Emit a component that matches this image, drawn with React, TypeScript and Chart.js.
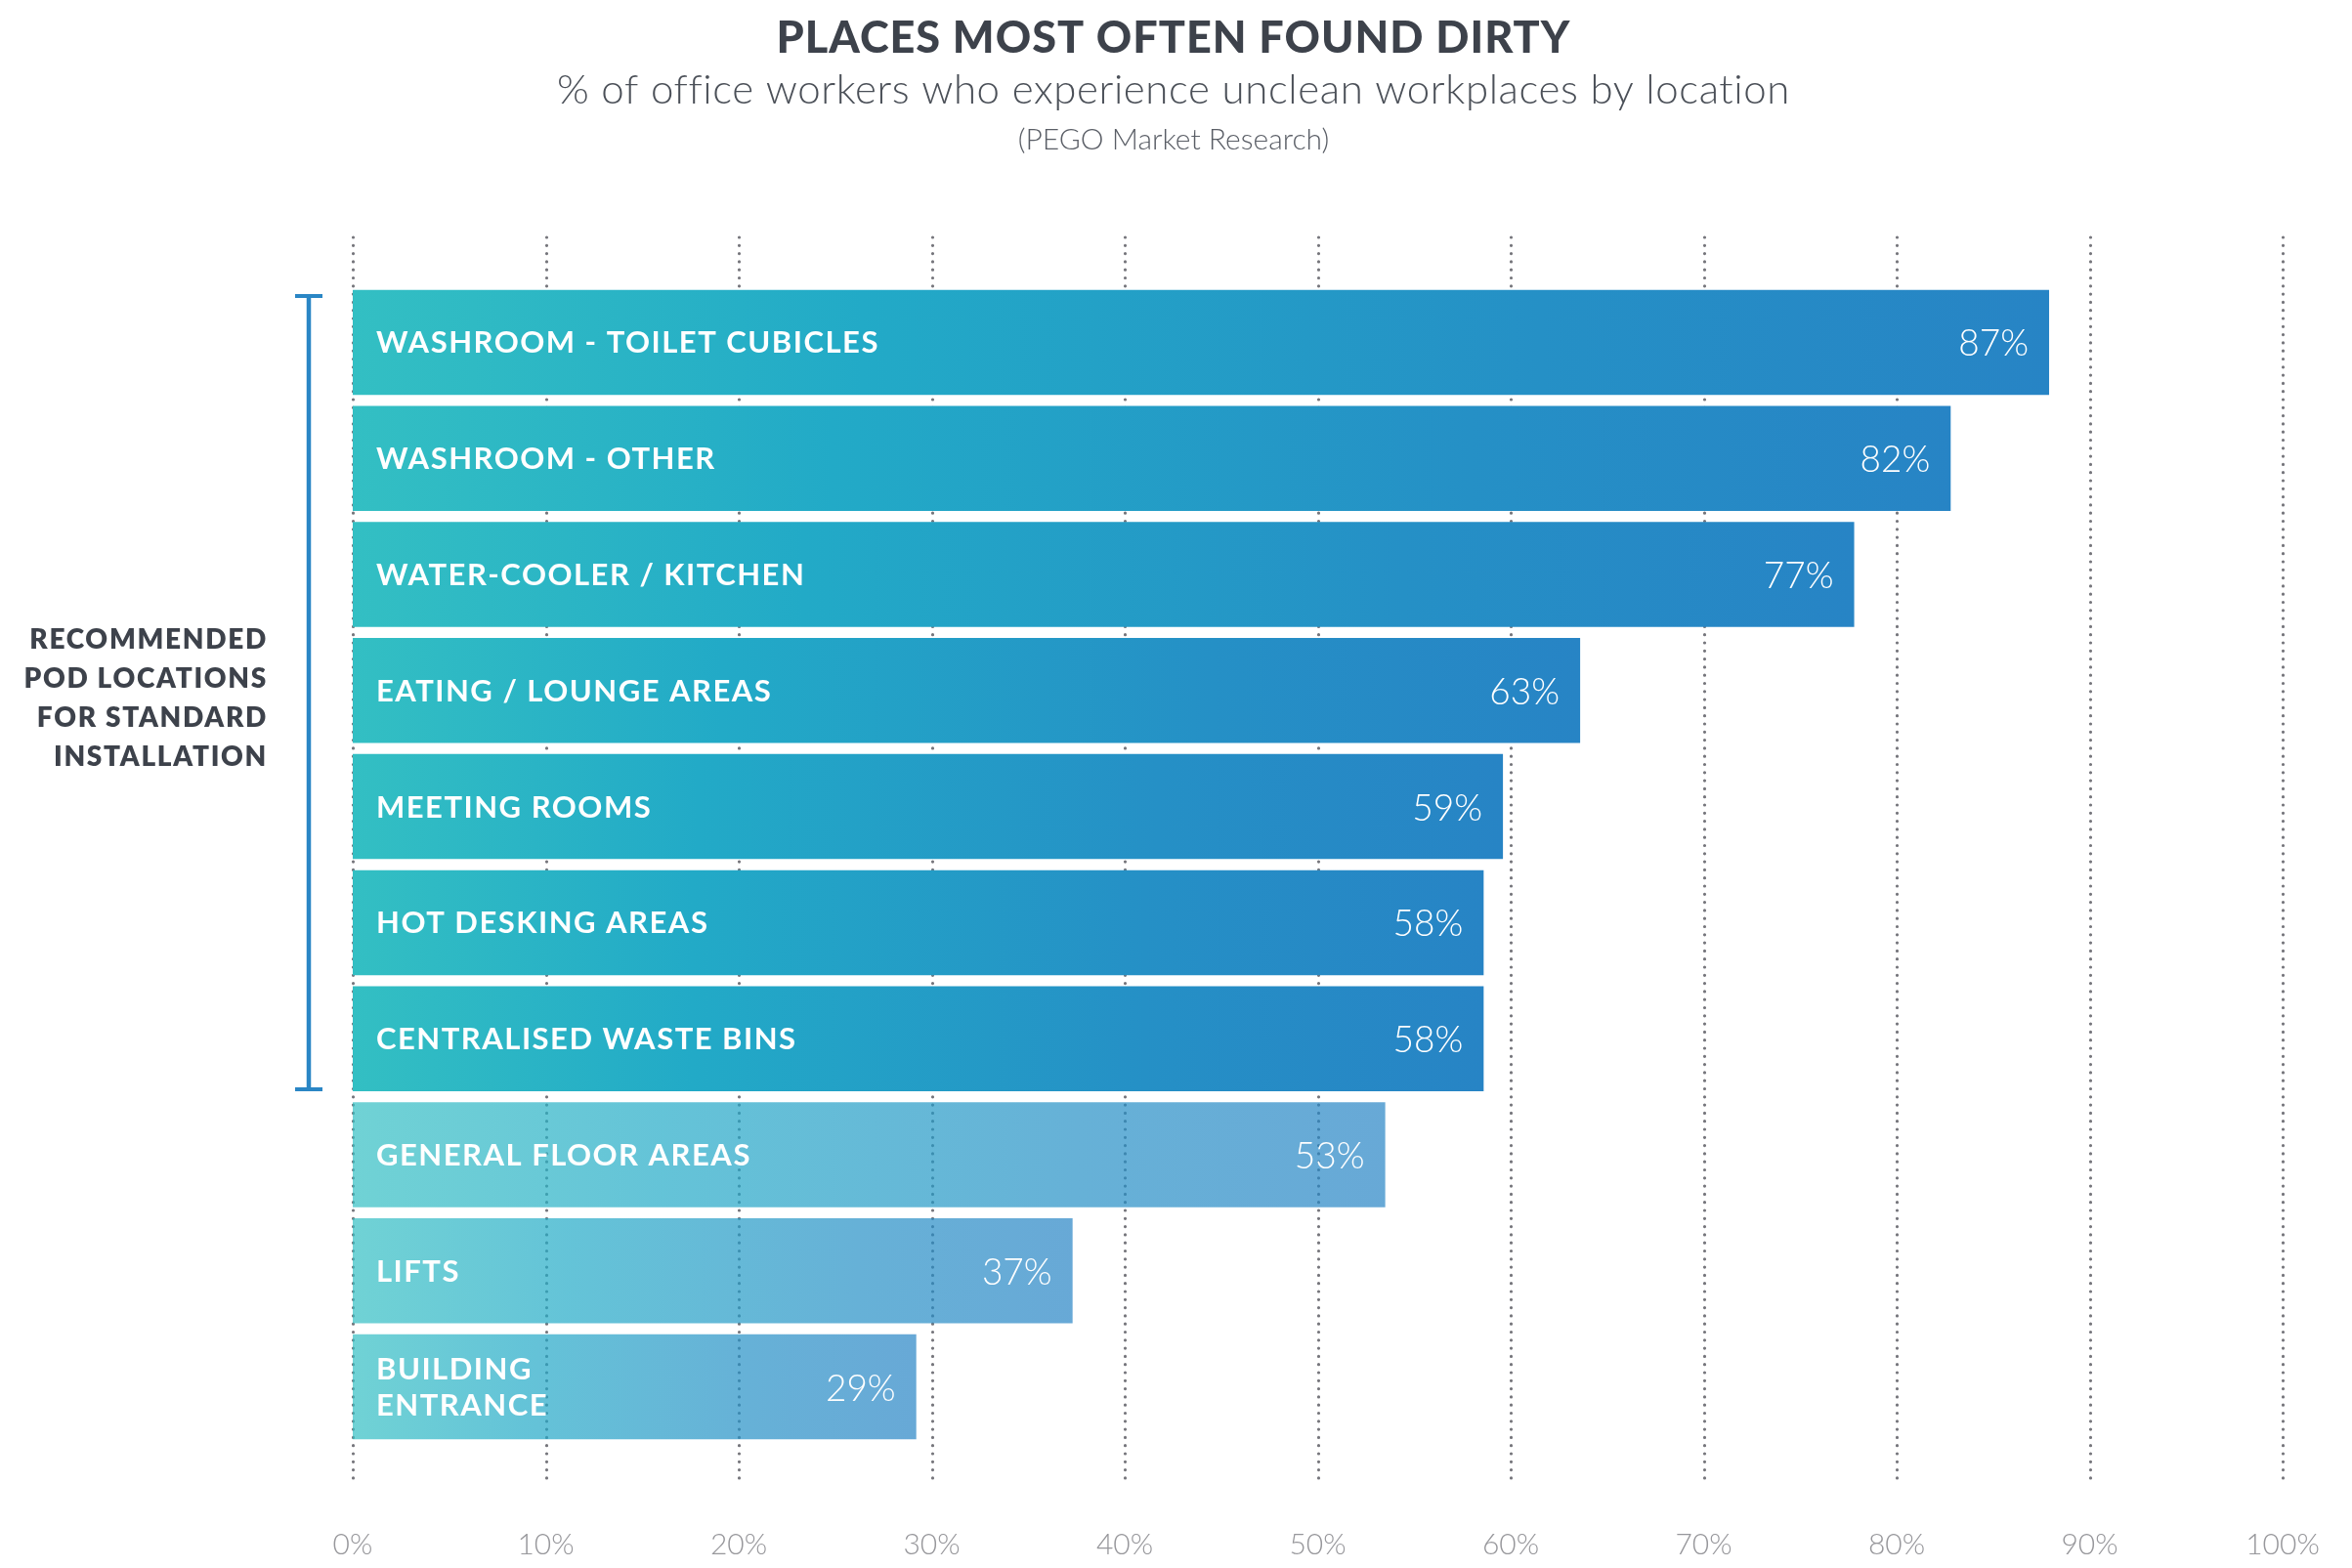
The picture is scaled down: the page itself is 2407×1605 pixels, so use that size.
import { useEffect, useRef } from "react";
import { Chart, registerables } from "chart.js";

Chart.register(...registerables);

const titleText = "PLACES MOST OFTEN FOUND DIRTY";
const subtitleText = "% of office workers who experience unclean workplaces by location";
const sourceText = "(PEGO Market Research)";
const sideLabelLines = ["RECOMMENDED", "POD LOCATIONS", "FOR STANDARD", "INSTALLATION"];

const categories: string[][] = [
  ["WASHROOM - TOILET CUBICLES"],
  ["WASHROOM - OTHER"],
  ["WATER-COOLER / KITCHEN"],
  ["EATING / LOUNGE AREAS"],
  ["MEETING ROOMS"],
  ["HOT DESKING AREAS"],
  ["CENTRALISED WASTE BINS"],
  ["GENERAL FLOOR AREAS"],
  ["LIFTS"],
  ["BUILDING", "ENTRANCE"],
];
// bar lengths as drawn in the picture
const values = [87.9, 82.8, 77.8, 63.6, 59.6, 58.6, 58.6, 53.5, 37.3, 29.2];
const valueLabels = ["87%", "82%", "77%", "63%", "59%", "58%", "58%", "53%", "37%", "29%"];
const recommended = [true, true, true, true, true, true, true, false, false, false];
const xTicks = [0, 10, 20, 30, 40, 50, 60, 70, 80, 90, 100];

const FONT = "Lato, 'Open Sans', sans-serif";

function barFill(ctx: any) {
  const chart = ctx.chart;
  const i = ctx.dataIndex;
  const a = recommended[i] ? 1 : 0.7;
  const xs = chart.scales && chart.scales.x;
  if (!chart.chartArea || !xs || i === undefined) return `rgba(34,168,200,${a})`;
  const x0 = xs.getPixelForValue(0);
  const x1 = xs.getPixelForValue(values[i]);
  const g = chart.ctx.createLinearGradient(x0, 0, x1, 0);
  g.addColorStop(0, `rgba(51,191,195,${a})`);
  g.addColorStop(0.3, `rgba(34,170,199,${a})`);
  g.addColorStop(0.7, `rgba(37,144,198,${a})`);
  g.addColorStop(1, `rgba(39,132,197,${a})`);
  return g;
}

const decorPlugin = {
  id: "decor",
  beforeDatasetsDraw(chart: any) {
    const ctx = chart.ctx;
    const xs = chart.scales.x;
    ctx.save();
    ctx.strokeStyle = "#76767c";
    ctx.lineWidth = 3.2;
    ctx.lineCap = "round";
    ctx.setLineDash([0, 8.3]);
    for (const t of xTicks) {
      const x = Math.round(xs.getPixelForValue(t)) + 0.5;
      ctx.beginPath();
      ctx.moveTo(x, 243);
      ctx.lineTo(x, 1521);
      ctx.stroke();
    }
    ctx.restore();
  },
  afterDatasetsDraw(chart: any) {
    const ctx = chart.ctx;
    const xs = chart.scales.x;
    const ys = chart.scales.y;
    const meta = chart.getDatasetMeta(0);
    ctx.save();
    // bar labels and values
    meta.data.forEach((bar: any, i: number) => {
      const lines = categories[i];
      const cy = bar.y;
      ctx.fillStyle = "#ffffff";
      ctx.textBaseline = "middle";
      ctx.textAlign = "left";
      ctx.font = `700 31px ${FONT}`;
      (ctx as any).letterSpacing = "1.5px";
      const lh = 37;
      lines.forEach((ln, k) => {
        const y = cy + (k - (lines.length - 1) / 2) * lh;
        ctx.fillText(ln, xs.getPixelForValue(0) + 24, y + 1);
      });
      (ctx as any).letterSpacing = "0px";
      ctx.textAlign = "right";
      ctx.font = `300 37px ${FONT}`;
      ctx.fillText(valueLabels[i], bar.x - 21, cy + 2);
    });

    // headings
    ctx.textAlign = "center";
    ctx.textBaseline = "middle";
    ctx.fillStyle = "#3d424b";
    ctx.font = `900 45px ${FONT}`;
    (ctx as any).letterSpacing = "1px";
    ctx.fillText(titleText, 1201, 39);
    ctx.fillStyle = "#4b5058";
    ctx.font = `300 42px ${FONT}`;
    (ctx as any).letterSpacing = "0.6px";
    ctx.fillText(subtitleText, 1201, 92);
    ctx.fillStyle = "#5a5e66";
    ctx.font = `300 30px ${FONT}`;
    (ctx as any).letterSpacing = "0px";
    ctx.fillText(sourceText, 1201, 143);

    // bracket
    const pitch = ys.getPixelForValue(1) - ys.getPixelForValue(0);
    const top = ys.getPixelForValue(0) - pitch / 2 + 10;
    const bottom = ys.getPixelForValue(6) + pitch * 0.905 / 2;
    ctx.strokeStyle = "#2a86c5";
    ctx.lineWidth = 4.5;
    ctx.beginPath();
    ctx.moveTo(316, top);
    ctx.lineTo(316, bottom);
    ctx.stroke();
    ctx.lineWidth = 4;
    ctx.beginPath();
    ctx.moveTo(302, top + 2);
    ctx.lineTo(330, top + 2);
    ctx.moveTo(302, bottom - 2);
    ctx.lineTo(330, bottom - 2);
    ctx.stroke();

    // side label
    ctx.fillStyle = "#3d424b";
    ctx.textAlign = "right";
    ctx.font = `800 28px ${FONT}`;
    (ctx as any).letterSpacing = "1.7px";
    const mid = (top + bottom) / 2 + 6;
    sideLabelLines.forEach((ln, k) => {
      ctx.fillText(ln, 274, mid + (k - 1.5) * 40);
    });
    (ctx as any).letterSpacing = "0px";
    ctx.restore();
  },
};

export default function App() {
  const ref = useRef<HTMLCanvasElement | null>(null);
  useEffect(() => {
    document.body.style.margin = "0";
    const canvas = ref.current;
    if (!canvas) return;
    const chart = new Chart(canvas, {
      type: "bar",
      data: {
        labels: categories.map((c) => c.join(" ")),
        datasets: [
          {
            data: values,
            backgroundColor: barFill as any,
            borderWidth: 0,
            barPercentage: 0.905,
            categoryPercentage: 1,
          },
        ],
      },
      options: {
        indexAxis: "y",
        responsive: false,
        animation: false,
        devicePixelRatio: 1,
        layout: { padding: { left: 361, right: 71, top: 291, bottom: 7 } },
        plugins: {
          legend: { display: false },
          tooltip: { enabled: false },
          title: { display: false },
        },
        scales: {
          x: {
            min: 0,
            max: 100,
            grid: { display: false, drawTicks: false },
            border: { display: false },
            afterBuildTicks: (axis: any) => {
              axis.ticks = xTicks.map((v) => ({ value: v }));
            },
            afterFit: (axis: any) => {
              axis.height = 119;
              axis.paddingLeft = 0;
              axis.paddingRight = 0;
            },
            ticks: {
              padding: 84,
              maxRotation: 0,
              minRotation: 0,
              color: "#97979b",
              font: { family: FONT, size: 30, weight: "300" as any },
              callback: (v: any) => `${v}%`,
            },
          },
          y: {
            display: false,
            grid: { display: false },
          },
        },
      },
      plugins: [decorPlugin],
    });
    return () => chart.destroy();
  }, []);
  return (
    <canvas
      ref={ref}
      width={2407}
      height={1605}
      style={{ display: "block", width: 2407, height: 1605 }}
    />
  );
}
